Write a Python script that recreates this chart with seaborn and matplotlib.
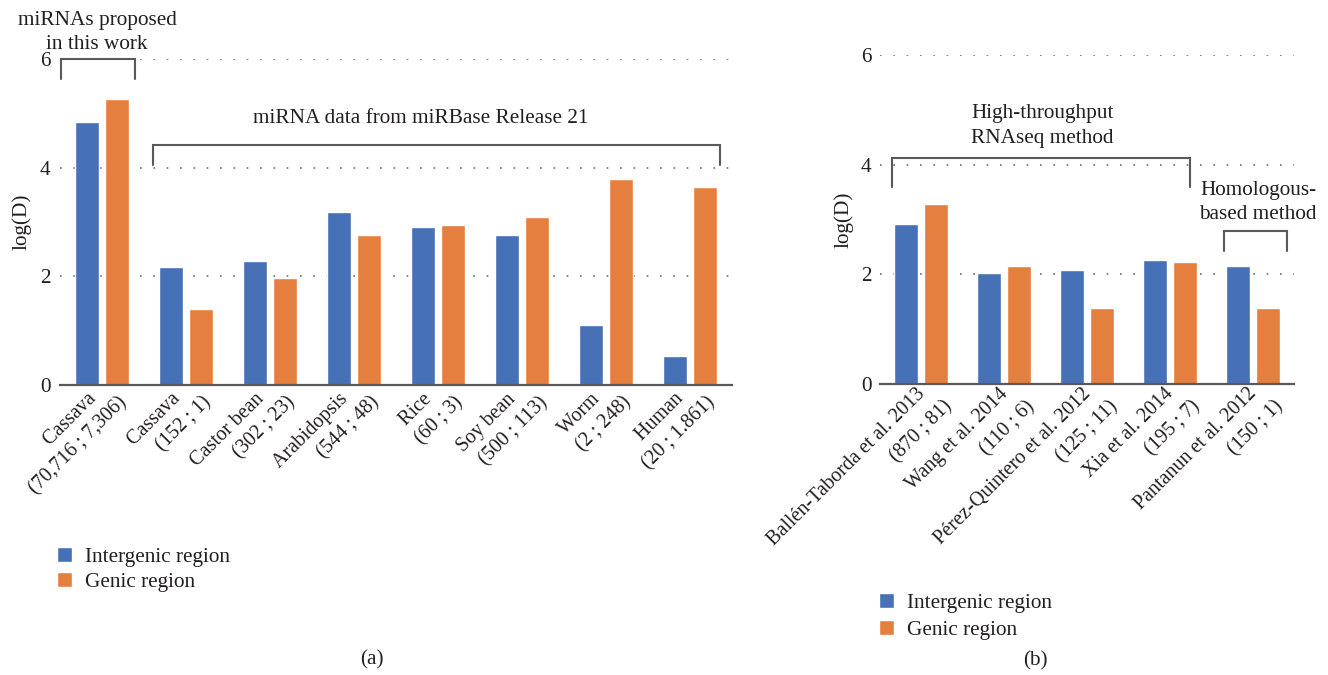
import matplotlib
matplotlib.use("Agg")
import matplotlib.pyplot as plt
import pandas as pd
import seaborn as sns
from matplotlib.transforms import ScaledTranslation

# ---- data -------------------------------------------------------------
species = ["Cassava", "Cassava", "Castor bean", "Arabidopsis", "Rice",
           "Soy bean", "Worm", "Human"]
species_counts = ["(70,716 ; 7,306)", "(152 ; 1)", "(302 ; 23)", "(544 ; 48)",
                  "(60 ; 3)", "(500 ; 113)", "(2 ; 248)", "(20 ; 1.861)"]
a_intergenic = [4.84, 2.17, 2.28, 3.18, 2.91, 2.76, 1.10, 0.53]
a_genic = [5.26, 1.40, 1.97, 2.76, 2.94, 3.09, 3.79, 3.64]

studies = ["Ballén-Taborda et al. 2013", "Wang et al. 2014",
           "Pérez-Quintero et al. 2012", "Xia et al. 2014", "Pantanun et al. 2012"]
study_counts = ["(870 ; 81)", "(110 ; 6)", "(125 ; 11)", "(195 ; 7)", "(150 ; 1)"]
b_intergenic = [2.92, 2.03, 2.08, 2.26, 2.15]
b_genic = [3.28, 2.15, 1.39, 2.23, 1.39]

regions = ["Intergenic region", "Genic region"]
y_ticks = [0, 2, 4, 6]

# ---- style ------------------------------------------------------------
BLUE = "#4671B6"
ORANGE = "#E47F3E"
TEXT = "#231F20"
AXIS = "#595959"
FS = 15.3
FS_TICK = 14.5

sns.set_theme(style="white")
plt.rcParams["font.family"] = ["Liberation Serif", "DejaVu Serif"]
plt.rcParams["text.color"] = TEXT
plt.rcParams["axes.labelcolor"] = TEXT
plt.rcParams["xtick.color"] = TEXT
plt.rcParams["ytick.color"] = TEXT


def long_table(names, counts, inter, genic, indent):
    labels = [f"{n}{' ' * indent}\n{c}" for n, c in zip(names, counts)]
    rows = []
    for lab, vi, vg in zip(labels, inter, genic):
        rows.append({"label": lab, "region": regions[0], "logD": vi})
        rows.append({"label": lab, "region": regions[1], "logD": vg})
    return pd.DataFrame(rows), labels


def draw_panel(ax, df, labels, width, gap, ytick_pad, label_x, dx, dy, ls):
    sns.barplot(data=df, x="label", y="logD", hue="region", hue_order=regions,
                order=labels, palette=[BLUE, ORANGE], width=width, gap=gap,
                saturation=1, ax=ax, legend=True)
    ax.set_xlim(-0.5, len(labels) - 0.5)
    ax.set_ylim(0, 6)
    ax.set_yticks(y_ticks)
    ax.set_yticklabels([str(t) for t in y_ticks], fontsize=FS)
    ax.tick_params(axis="y", length=0, pad=ytick_pad)
    ax.tick_params(axis="x", length=0, pad=0)
    ax.set_xticks(range(len(labels)))
    # the last line's baseline sits on the anchor point
    ax.set_xticklabels(labels, rotation=45, ha="right", va="baseline",
                       rotation_mode="anchor", multialignment="right",
                       fontsize=FS_TICK, linespacing=ls)
    shift = ScaledTranslation(dx / 100, dy / 100, ax.figure.dpi_scale_trans)
    for lab in ax.get_xticklabels():
        lab.set_transform(lab.get_transform() + shift)
    ax.set_xlabel("")
    ax.set_ylabel("log(D)", fontsize=FS)
    ax.yaxis.set_label_coords(label_x, 0.5)
    ax.set_axisbelow(True)
    ax.yaxis.grid(True, linestyle=(0, (1, 7)), color="#6e6e6e", linewidth=1.2)
    ax.xaxis.grid(False)
    for side in ("left", "right", "top"):
        ax.spines[side].set_visible(False)
    ax.spines["bottom"].set_color(AXIS)
    ax.spines["bottom"].set_linewidth(1.6)
    handles, names = ax.get_legend_handles_labels()
    ax.legend_.remove()
    return handles, names


def bracket(ax, x0, x1, y_top, y_end):
    ax.plot([x0, x0, x1, x1], [y_end, y_top, y_top, y_end], color=AXIS,
            linewidth=1.5, clip_on=False, solid_joinstyle="miter")


def legend(ax, handles, names, x_px, y_px, spacing):
    ax.legend(handles, names, loc="upper left",
              bbox_to_anchor=(x_px / 1328, 1 - y_px / 675),
              bbox_transform=ax.figure.transFigure, frameon=False, fontsize=FS,
              handlelength=0.7, handleheight=0.7, handletextpad=0.6,
              labelspacing=spacing, borderpad=0, borderaxespad=0)


fig = plt.figure(figsize=(13.28, 6.75), dpi=100)
ax_a = fig.add_axes([60 / 1328, 1 - 385 / 675, 672 / 1328, 326 / 675])
ax_b = fig.add_axes([880 / 1328, 1 - 384 / 675, 414 / 1328, 329 / 675])

# ---- panel (a) --------------------------------------------------------
df_a, labels_a = long_table(species, species_counts, a_intergenic, a_genic, 4)
handles, names = draw_panel(ax_a, df_a, labels_a, 0.714, 0.167, 7, -0.042,
                            22, -14, 1.39)
bracket(ax_a, -0.49, 0.39, 6.0, 5.63)
ax_a.text(-0.06, 6.49, "miRNAs proposed\nin this work", ha="center",
          va="center", fontsize=FS, linespacing=1.38, clip_on=False)
bracket(ax_a, 0.607, 7.36, 4.42, 4.05)
ax_a.text(3.79, 4.90, "miRNA data from miRBase Release 21", ha="center",
          va="center", fontsize=FS)
legend(ax_a, handles, names, 57, 547, 0.25)

# ---- panel (b) --------------------------------------------------------
df_b, labels_b = long_table(studies, study_counts, b_intergenic, b_genic, 2)
handles, names = draw_panel(ax_b, df_b, labels_b, 0.723, 0.2, 6, -0.065,
                            25, -17, 1.6)
bracket(ax_b, -0.355, 3.24, 4.12, 3.59)
ax_b.text(1.46, 4.705, "High-throughput\nRNAseq method", ha="center",
          va="center", fontsize=FS, linespacing=1.38)
bracket(ax_b, 3.655, 4.415, 2.79, 2.43)
ax_b.text(4.065, 3.305, "Homologous-\nbased method", ha="center",
          va="center", fontsize=FS, linespacing=1.38, clip_on=False)
legend(ax_b, handles, names, 879, 593, 0.35)

# ---- panel captions ---------------------------------------------------
fig.text(372 / 1328, 1 - 660 / 675, "(a)", ha="center", va="center", fontsize=FS)
fig.text(1035 / 1328, 1 - 661 / 675, "(b)", ha="center", va="center", fontsize=FS)

fig.savefig("out.png", dpi=100)
